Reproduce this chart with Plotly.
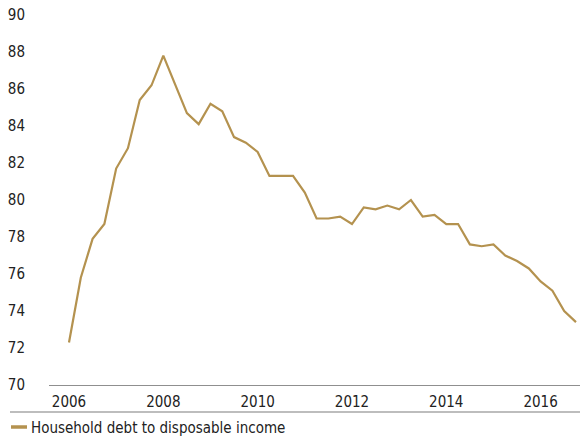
import plotly.graph_objects as go

# Quarterly household debt-to-income ratio, 2006 Q1 - 2016 Q4
years = list(range(2006, 2017))
quarters = [1, 2, 3, 4]
debt_to_income = [
    72.3, 75.8, 77.9, 78.7,   # 2006
    81.7, 82.8, 85.4, 86.2,   # 2007
    87.8, 86.3, 84.7, 84.1,   # 2008
    85.2, 84.8, 83.4, 83.1,   # 2009
    82.6, 81.3, 81.3, 81.3,   # 2010
    80.4, 79.0, 79.0, 79.1,   # 2011
    78.7, 79.6, 79.5, 79.7,   # 2012
    79.5, 80.0, 79.1, 79.2,   # 2013
    78.7, 78.7, 77.6, 77.5,   # 2014
    77.6, 77.0, 76.7, 76.3,   # 2015
    75.6, 75.1, 74.0, 73.4,   # 2016
]
series_name = "Household debt to disposable income"
x_ticks = [2006, 2008, 2010, 2012, 2014, 2016]
y_ticks = list(range(70, 91, 2))

x_vals = [y + (q - 1) / 4 for y in years for q in quarters][: len(debt_to_income)]

GOLD = "#B4924F"
TEXT = "#222222"
FONT = "DejaVu Sans Condensed, Liberation Sans, Arial, sans-serif"
FS = 15

W, H = 580, 437
L, R, T, B = 49, 0, 15, 52
pw, ph = W - L - R, H - T - B


def px_to_paper_y(py):
    return (T + ph - py) / ph


def px_to_paper_x(px):
    return (px - L) / pw


fig = go.Figure()
fig.add_trace(go.Scatter(
    x=x_vals, y=debt_to_income, mode="lines",
    line=dict(color=GOLD, width=2.2),
    name=series_name, showlegend=False,
))

fig.update_layout(
    width=W, height=H,
    margin=dict(l=L, r=R, t=T, b=B),
    paper_bgcolor="white", plot_bgcolor="white",
    font=dict(family=FONT, size=FS, color=TEXT),
    xaxis=dict(
        range=[2005.576, 2016.835],
        tickvals=x_ticks, ticktext=[str(v) for v in x_ticks],
        showgrid=False, zeroline=False,
        showline=True, linecolor="#8f8f8f", linewidth=1.2,
        ticks="outside", ticklen=3, tickcolor="rgba(0,0,0,0)",
    ),
    yaxis=dict(
        range=[70, 90],
        tickvals=y_ticks, ticktext=[str(v) for v in y_ticks],
        showgrid=False, zeroline=False, showline=False,
        ticks="outside", ticklen=20, tickcolor="rgba(0,0,0,0)",
    ),
    shapes=[
        # rule under the year labels
        dict(type="line", xref="paper", yref="paper",
             x0=px_to_paper_x(10), x1=1,
             y0=px_to_paper_y(412), y1=px_to_paper_y(412),
             line=dict(color="#bdbdbd", width=2)),
        # legend swatch
        dict(type="line", xref="paper", yref="paper",
             x0=px_to_paper_x(11), x1=px_to_paper_x(27),
             y0=px_to_paper_y(427), y1=px_to_paper_y(427),
             line=dict(color=GOLD, width=3.5)),
    ],
    annotations=[
        dict(text=series_name, xref="paper", yref="paper",
             x=px_to_paper_x(29), y=px_to_paper_y(428),
             xanchor="left", yanchor="middle", showarrow=False,
             font=dict(family=FONT, size=FS, color=TEXT)),
    ],
)

fig.write_html("out.html")
